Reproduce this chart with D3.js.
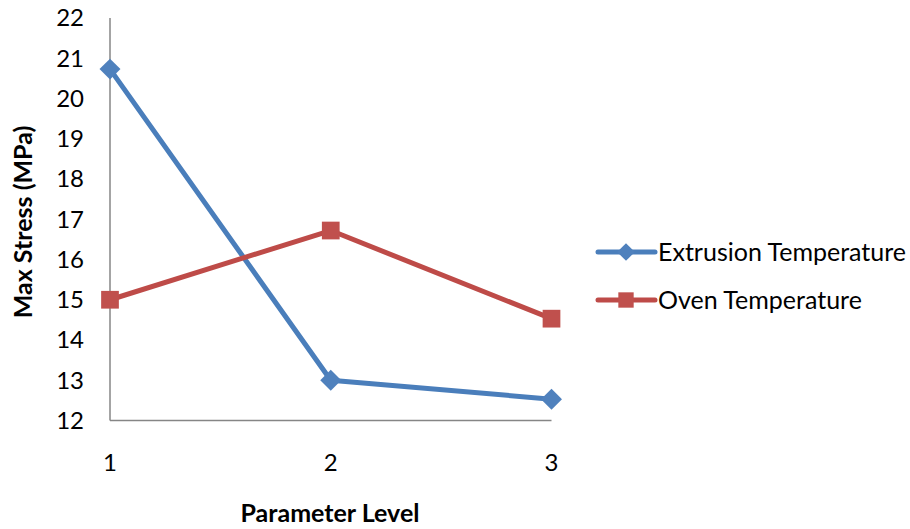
<!DOCTYPE html>
<html>
<head>
<meta charset="utf-8">
<script src="https://cdn.jsdelivr.net/npm/d3@7"></script>
<style>
  html, body { margin: 0; padding: 0; background: #fff; }
  svg { display: block; }
  text { font-family: Lato, "Open Sans", sans-serif; fill: #000; }
</style>
</head>
<body>
<svg id="chart" width="910" height="529"></svg>
<script>
// Parameter levels on the x axis
const levels = [1, 2, 3];
// Max stress (MPa) for each parameter level
const extrusionTemp = [20.73, 13.0, 12.53];
const ovenTemp = [15.0, 16.72, 14.53];
// Y axis ticks
const yTicks = [12, 13, 14, 15, 16, 17, 18, 19, 20, 21, 22];
const seriesNames = ["Extrusion Temperature", "Oven Temperature"];

const svg = d3.select("#chart");
const plot = { left: 110, right: 551.5, top: 18, bottom: 420.5 };

const x = d3.scaleLinear().domain([1, 3]).range([plot.left, plot.right]);
const y = d3.scaleLinear().domain([12, 22]).range([plot.bottom, plot.top]);

const axisColor = "#868686";

// Axis lines
svg.append("line")
  .attr("x1", plot.left).attr("x2", plot.left)
  .attr("y1", plot.top).attr("y2", plot.bottom)
  .attr("stroke", axisColor).attr("stroke-width", 1.5);
svg.append("line")
  .attr("x1", plot.left).attr("x2", plot.right)
  .attr("y1", plot.bottom).attr("y2", plot.bottom)
  .attr("stroke", axisColor).attr("stroke-width", 1.5);

// Y tick labels
svg.append("g").selectAll("text").data(yTicks).join("text")
  .attr("x", 84)
  .attr("y", d => y(d))
  .attr("dy", "0.35em")
  .attr("text-anchor", "end")
  .attr("font-size", 24)
  .text(d => d);

// X tick labels
svg.append("g").selectAll("text").data(levels).join("text")
  .attr("x", d => x(d))
  .attr("y", 471)
  .attr("text-anchor", "middle")
  .attr("font-size", 24)
  .text(d => d);

// Axis titles
svg.append("text")
  .attr("transform", "translate(32,222) rotate(-90)")
  .attr("text-anchor", "middle")
  .attr("font-size", 25)
  .attr("font-weight", "bold")
  .text("Max Stress (MPa)");
svg.append("text")
  .attr("x", 330).attr("y", 522)
  .attr("text-anchor", "middle")
  .attr("font-size", 25)
  .attr("font-weight", "bold")
  .text("Parameter Level");

const series = [
  { name: seriesNames[0], values: extrusionTemp, line: "#4A7EBB", fill: "#4F81BD", shape: d3.symbolDiamond2 },
  { name: seriesNames[1], values: ovenTemp, line: "#BE4B48", fill: "#C0504D", shape: d3.symbolSquare2 }
];

const lineGen = d3.line().x((d, i) => x(levels[i])).y(d => y(d));

series.forEach(s => {
  svg.append("path")
    .attr("d", lineGen(s.values))
    .attr("fill", "none")
    .attr("stroke", s.line)
    .attr("stroke-width", 5)
    .attr("stroke-linejoin", "round");
  svg.append("g").selectAll("path").data(s.values).join("path")
    .attr("transform", (d, i) => `translate(${x(levels[i])},${y(d)})`)
    .attr("d", d3.symbol().type(s.shape).size(s.shape === d3.symbolSquare2 ? 400 : 280))
    .attr("fill", s.fill);
});

// Legend
const legend = svg.append("g");
series.forEach((s, i) => {
  const ly = 252 + i * 48;
  legend.append("line")
    .attr("x1", 598).attr("x2", 655)
    .attr("y1", ly).attr("y2", ly)
    .attr("stroke", s.line).attr("stroke-width", 5)
    .attr("stroke-linecap", "round");
  legend.append("path")
    .attr("transform", `translate(626,${ly})`)
    .attr("d", d3.symbol().type(s.shape).size(s.shape === d3.symbolSquare2 ? 300 : 200))
    .attr("fill", s.fill);
  legend.append("text")
    .attr("x", 658).attr("y", ly)
    .attr("dy", "0.35em")
    .attr("font-size", 25)
    .text(s.name);
});
</script>
</body>
</html>
